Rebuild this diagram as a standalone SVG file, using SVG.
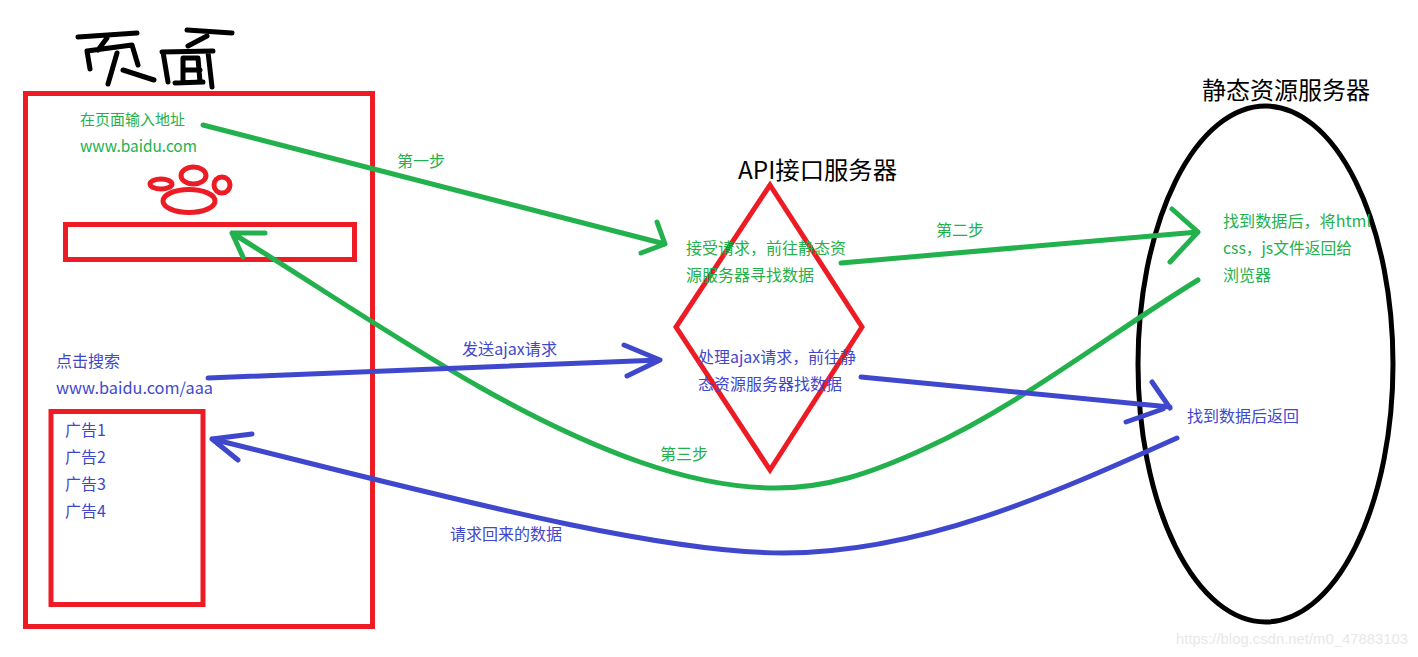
<svg xmlns="http://www.w3.org/2000/svg" width="1418" height="657" viewBox="0 0 1418 657">
<style>
text{font-family:"Noto Sans CJK SC","Noto Sans",sans-serif;font-size:16px}
.g{fill:#22b14c}.b{fill:#3f48cc}.k{fill:#000;font-size:24px}
.wm{fill:#e8e8e8;font-family:"Liberation Sans",sans-serif;font-size:14.800px}
.red{fill:none;stroke:#ed1c24;stroke-width:5}
.ink{fill:none;stroke:#000;stroke-width:5;stroke-linecap:round;stroke-linejoin:round}
.cg{fill:none;stroke:#22b14c;stroke-width:5;stroke-linecap:round;stroke-linejoin:round}
.cb{fill:none;stroke:#3f48cc;stroke-width:5;stroke-linecap:round;stroke-linejoin:round}
</style>
<rect width="1418" height="657" fill="#fff"/>
<g id="page-title">
<path class="ink" d="M78 37L137 33M107 38L98 50M87 51L90 69M87 51L132 45L138 65M117 53L108 84M123 70L154 80"/>
<path class="ink" d="M187 30L232 33M207 36L188 46M162 52L213 51M163 52L168 82M183 58L183 82M175 83L203 82M183 58L198 58L200 82M183 70L200 70M208 52L212 87"/>
</g>
<g id="page"><rect class="red" x="25.500" y="93.500" width="347" height="533"/></g>
<g id="logo">
<ellipse class="red" cx="161" cy="184" rx="11" ry="5"/>
<ellipse class="red" cx="193.500" cy="175.500" rx="12.500" ry="8.500"/>
<ellipse class="red" cx="222" cy="185" rx="8" ry="8"/>
<ellipse class="red" cx="189" cy="201" rx="26" ry="11.500"/>
</g>
<g id="search-box"><rect class="red" x="65.500" y="224.500" width="289" height="35"/></g>
<g id="ad-box"><rect class="red" x="51" y="411.500" width="152" height="193"/>
<text class="b" x="65" y="436">广告1</text><text class="b" x="65" y="463">广告2</text><text class="b" x="65" y="490">广告3</text><text class="b" x="65" y="517">广告4</text></g>
<g id="page-text">
<text class="g" x="80" y="125" style="font-size:15px">在页面输入地址</text>
<text class="g" x="80" y="152" textLength="117" lengthAdjust="spacingAndGlyphs">www.baidu.com</text>
<text class="b" x="56" y="367">点击搜索</text>
<text class="b" x="56" y="394" textLength="157" lengthAdjust="spacingAndGlyphs">www.baidu.com/aaa</text>
</g>
<g id="api-server">
<path fill="none" stroke="#ed1c24" stroke-width="5" d="M770 185L862 327L770 470L676 327Z"/>
<text class="k" x="738" y="179" textLength="159" lengthAdjust="spacingAndGlyphs">API接口服务器</text>
<text class="g" x="686" y="254">接受请求，前往静态资</text>
<text class="g" x="686" y="281">源服务器寻找数据</text>
<text class="b" x="698" y="363" textLength="158" lengthAdjust="spacingAndGlyphs">处理ajax请求，前往静</text>
<text class="b" x="698" y="390">态资源服务器找数据</text>
</g>
<g id="static-server">
<ellipse cx="1265.500" cy="364" rx="127.500" ry="258" fill="none" stroke="#000" stroke-width="5"/>
<text class="k" x="1202" y="99">静态资源服务器</text>
<text class="g" x="1223" y="227" textLength="148" lengthAdjust="spacingAndGlyphs">找到数据后，将html</text>
<text class="g" x="1223" y="254" textLength="129" lengthAdjust="spacingAndGlyphs">css，js文件返回给</text>
<text class="g" x="1223" y="281">浏览器</text>
<text class="b" x="1187" y="422">找到数据后返回</text>
</g>
<g id="connectors">
<path class="cg" d="M203 125L665 244M657 222L665 244L641 253"/>
<path class="cg" d="M841 263L1198 232M1172 209L1198 232L1170 262"/>
<path class="cg" d="M1198 280C1105 337 1020 405 926 448C870 474 826 488 776 488C725 488 680 476 640 462C500 413 370 318 232 233M232 233L265 233M232 233L243 257"/>
<path class="cb" d="M208 378L660 360M624 345L660 360L627 376"/>
<path class="cb" d="M861 377L1170 407M1152 382L1170 408M1163 409L1126 422"/>
<path class="cb" d="M1177 438C1050 495 920 553 783 553C650 553 420 490 212 439M212 439L252 434M212 439L238 460"/>
</g>
<g id="labels">
<text class="g" x="397" y="167">第一步</text>
<text class="g" x="936" y="236">第二步</text>
<text class="g" x="660" y="460">第三步</text>
<text class="b" x="462" y="355" textLength="95" lengthAdjust="spacingAndGlyphs">发送ajax请求</text>
<text class="b" x="450" y="540">请求回来的数据</text>
</g>
<text class="wm" x="1176" y="644" textLength="232" lengthAdjust="spacingAndGlyphs">https://blog.csdn.net/m0_47883103</text>
</svg>
